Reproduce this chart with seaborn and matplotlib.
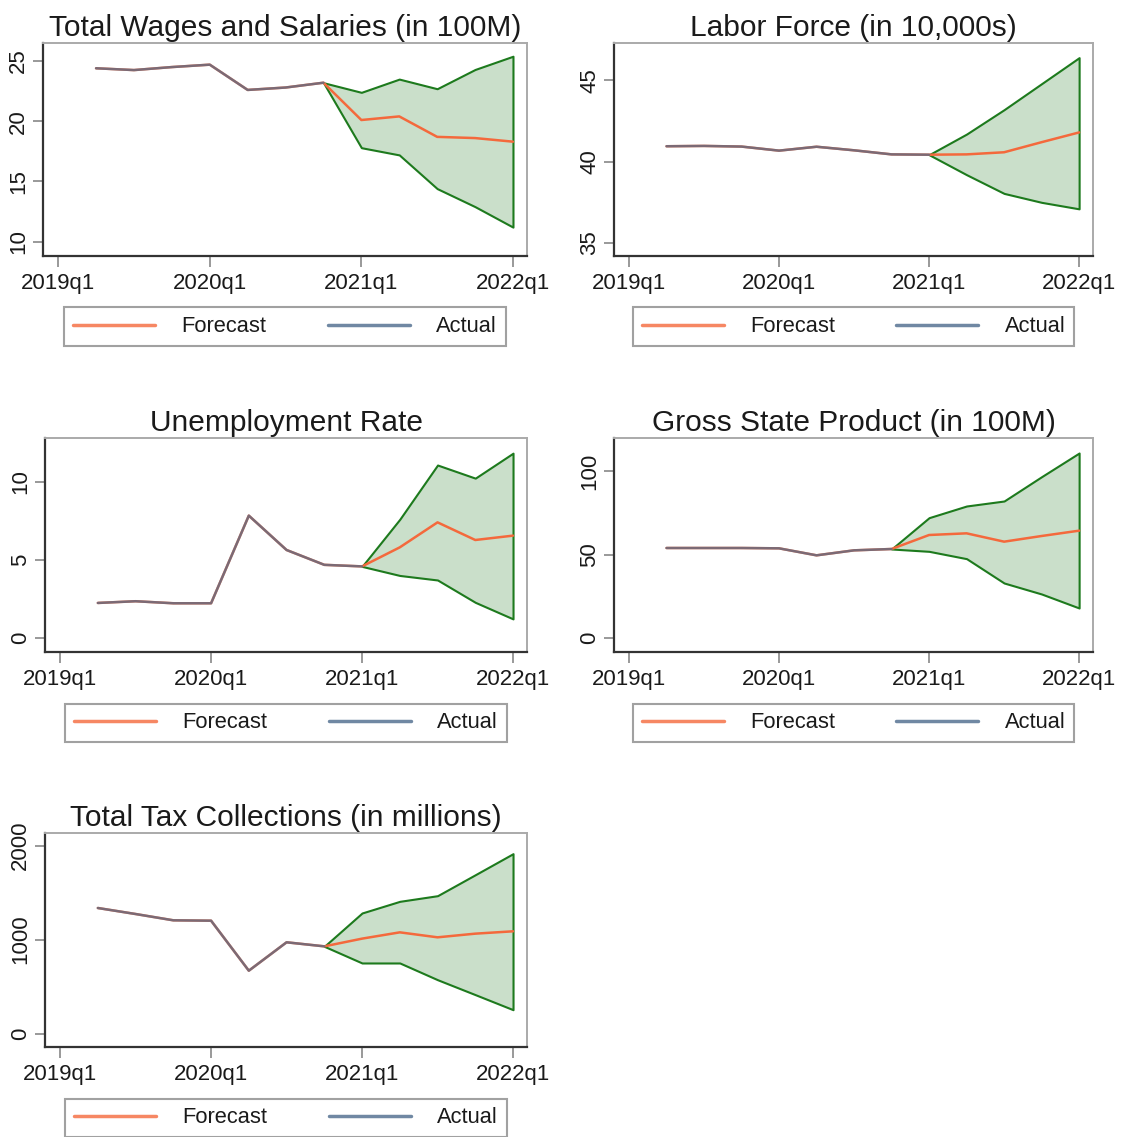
import numpy as np
import pandas as pd
import matplotlib
matplotlib.use("Agg")
import matplotlib.pyplot as plt
import seaborn as sns
from matplotlib.lines import Line2D

nan = np.nan

# quarter positions: 0 = 2019q1 ... 12 = 2022q1
qpos = list(range(1, 13))
tick_pos = [0, 4, 8, 12]
tick_labels = ["2019q1", "2020q1", "2021q1", "2022q1"]

titles = ["Total Wages and Salaries (in 100M)", "Labor Force (in 10,000s)",
          "Unemployment Rate", "Gross State Product (in 100M)",
          "Total Tax Collections (in millions)"]

wages_actual = [24.4, 24.25, 24.5, 24.7, 22.6, 22.8, 23.2, nan, nan, nan, nan, nan]
wages_fc = [24.4, 24.25, 24.5, 24.7, 22.6, 22.8, 23.2, 20.1, 20.4, 18.7, 18.6, 18.3]
wages_hi = [nan] * 6 + [23.2, 22.4, 23.5, 22.7, 24.3, 25.4]
wages_lo = [nan] * 6 + [23.2, 17.8, 17.2, 14.4, 12.9, 11.2]

labor_actual = [40.95, 40.97, 40.93, 40.68, 40.92, 40.7, 40.45, 40.43, nan, nan, nan, nan]
labor_fc = [40.95, 40.97, 40.93, 40.68, 40.92, 40.7, 40.45, 40.43, 40.45, 40.58, 41.2, 41.8]
labor_hi = [nan] * 7 + [40.43, 41.7, 43.2, 44.8, 46.4]
labor_lo = [nan] * 7 + [40.43, 39.2, 38.05, 37.5, 37.1]

unemp_actual = [2.24, 2.35, 2.22, 2.22, 7.83, 5.63, 4.68, 4.58, nan, nan, nan, nan]
unemp_fc = [2.24, 2.35, 2.22, 2.22, 7.83, 5.63, 4.68, 4.58, 5.8, 7.4, 6.27, 6.55]
unemp_hi = [nan] * 7 + [4.58, 7.6, 11.07, 10.23, 11.83]
unemp_lo = [nan] * 7 + [4.58, 4.0, 3.71, 2.28, 1.22]

gsp_actual = [54.0, 54.0, 54.0, 53.8, 49.6, 52.6, 53.4, nan, nan, nan, nan, nan]
gsp_fc = [54.0, 54.0, 54.0, 53.8, 49.6, 52.6, 53.4, 61.8, 62.8, 57.8, 61.2, 64.4]
gsp_hi = [nan] * 6 + [53.4, 72.2, 79.2, 82.2, 96.8, 111.0]
gsp_lo = [nan] * 6 + [53.4, 52.0, 47.6, 33.0, 26.4, 18.0]

tax_actual = [1337, 1273, 1206, 1202, 670, 972, 929, nan, nan, nan, nan, nan]
tax_fc = [1337, 1273, 1206, 1202, 670, 972, 929, 1011, 1078, 1025, 1064, 1089]
tax_hi = [nan] * 6 + [929, 1284, 1408, 1468, 1691, 1915]
tax_lo = [nan] * 6 + [929, 752, 752, 574, 415, 255]

yticks = [[10, 15, 20, 25], [35, 40, 45], [0, 5, 10], [0, 50, 100], [0, 1000, 2000]]
ylims = [(8.8, 26.5), (34.2, 47.3), (-0.9, 12.8), (-8.4, 120), (-142, 2135)]

series = [
    (wages_actual, wages_fc, wages_hi, wages_lo),
    (labor_actual, labor_fc, labor_hi, labor_lo),
    (unemp_actual, unemp_fc, unemp_hi, unemp_lo),
    (gsp_actual, gsp_fc, gsp_hi, gsp_lo),
    (tax_actual, tax_fc, tax_hi, tax_lo),
]

ORANGE = "#f4693c"
BLUE = "#4c6b8c"
GREEN = "#1d7a1d"
FILL = "#cadfca"
TXT = "#1a1a1a"

sns.set_style("white")
plt.rcParams["font.family"] = ["Liberation Sans", "DejaVu Sans"]

W, H = 1123, 1137
fig = plt.figure(figsize=(W / 100, H / 100), dpi=100)

# axes boxes in pixels: left, right, top, bottom
boxes = [(43, 527, 43, 256), (614, 1093, 43, 256),
         (45, 527, 438, 652), (614, 1093, 438, 652),
         (45, 527, 833, 1047)]

for i, (l, r, t, b) in enumerate(boxes):
    ax = fig.add_axes([l / W, 1 - b / H, (r - l) / W, (b - t) / H])
    act, fc, hi, lo = series[i]
    df = pd.DataFrame({"q": qpos, "actual": act, "forecast": fc, "hi": hi, "lo": lo})

    ax.fill_between(df["q"], df["lo"], df["hi"], facecolor=FILL, edgecolor=GREEN,
                    linewidth=1.5, zorder=1)
    sns.lineplot(data=df, x="q", y="forecast", color=ORANGE, linewidth=1.8, ax=ax, zorder=3)
    sns.lineplot(data=df, x="q", y="actual", color=BLUE, linewidth=1.8, alpha=0.72, ax=ax, zorder=4)

    ax.set_xlim(-0.4, 12.37)
    ax.set_ylim(*ylims[i])
    ax.set_xticks(tick_pos)
    ax.set_xticklabels(tick_labels)
    ax.set_yticks(yticks[i])
    ax.set_xlabel("")
    ax.set_ylabel("")
    ax.tick_params(axis="x", labelsize=16, length=8, width=1.2, color="#888888",
                   labelcolor=TXT, pad=4, bottom=True)
    ax.tick_params(axis="y", labelsize=16, length=7, width=1.2, color="#888888",
                   labelcolor=TXT, pad=3, left=True)
    for lab in ax.get_yticklabels():
        lab.set_rotation(90)
        lab.set_va("center")
    for s in ["left", "bottom"]:
        ax.spines[s].set_color("#333333")
        ax.spines[s].set_linewidth(1.6)
    for s in ["top", "right"]:
        ax.spines[s].set_color("#aaaaaa")
        ax.spines[s].set_linewidth(1.4)
    ax.set_title(titles[i], fontsize=21.5, color=TXT, pad=5)

    handles = [Line2D([0], [0], color=ORANGE, lw=2.5, alpha=0.8),
               Line2D([0], [0], color=BLUE, lw=2.5, alpha=0.8)]
    leg = ax.legend(handles, ["Forecast", "Actual"], loc="upper center",
                    bbox_to_anchor=(0.5, -0.19), ncol=2, fontsize=15.75,
                    handlelength=3.75, handletextpad=1.2, columnspacing=2.8,
                    frameon=True, fancybox=False, borderpad=0.4)
    leg.get_frame().set_edgecolor("#8a8a8a")
    leg.get_frame().set_linewidth(1.5)
    for txt in leg.get_texts():
        txt.set_color(TXT)

fig.savefig("out.png", dpi=100)
